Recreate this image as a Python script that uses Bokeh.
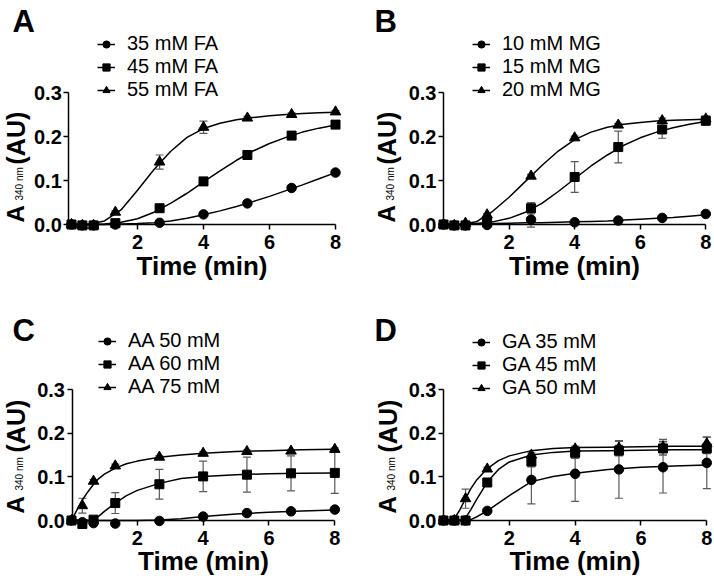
import math
from bokeh.plotting import figure
from bokeh.models import (Range1d, FixedTicker, Legend, LegendItem, Label, Whisker,
                          ColumnDataSource, TeeHead, NumeralTickFormatter)
from bokeh.layouts import gridplot
from bokeh.embed import file_html
from bokeh.resources import INLINE

FONT = "Liberation Sans"

# ---------------- data ----------------
t = [0, 0.33, 0.67, 1.33, 2.67, 4, 5.33, 6.67, 8]
x_ticks = [2, 4, 6, 8]
x_tick_labels = ["2", "4", "6", "8"]
y_ticks = [0.0, 0.1, 0.2, 0.3]
y_tick_labels = ["0.0", "0.1", "0.2", "0.3"]

# Panel A (FA)
FA_labels = ["35 mM FA", "45 mM FA", "55 mM FA"]
FA35 = [0, -0.002, -0.002, 0.000, 0.004, 0.023, 0.048, 0.083, 0.118]
FA45 = [0, -0.002, -0.002, 0.003, 0.037, 0.098, 0.158, 0.202, 0.227]
FA55 = [0, -0.002, -0.002, 0.028, 0.142, 0.221, 0.242, 0.250, 0.256]
FA35_err = [0, 0, 0, 0.002, 0.002, 0.003, 0.003, 0.003, 0.003]
FA45_err = [0, 0, 0, 0.002, 0.003, 0.003, 0.003, 0.003, 0.003]
FA55_err = [0, 0, 0, 0.003, 0.016, 0.014, 0.004, 0.004, 0.003]

# Panel B (MG)
MG_labels = ["10 mM MG", "15 mM MG", "20 mM MG"]
MG10 = [0, -0.002, -0.002, -0.001, 0.011, 0.005, 0.009, 0.015, 0.024]
MG15 = [0, -0.002, -0.002, 0.005, 0.037, 0.108, 0.176, 0.216, 0.236]
MG20 = [0, -0.002, 0.003, 0.022, 0.110, 0.197, 0.226, 0.236, 0.240]
MG10_err = [0, 0, 0, 0.002, 0.017, 0.003, 0.003, 0.003, 0.003]
MG15_err = [0, 0, 0, 0.003, 0.013, 0.035, 0.036, 0.020, 0.010]
MG20_err = [0, 0, 0, 0.003, 0.004, 0.004, 0.004, 0.006, 0.006]

# Panel C (AA)
AA_labels = ["AA 50 mM", "AA 60 mM", "AA 75 mM"]
AA50 = [0, -0.004, -0.006, -0.007, -0.001, 0.009, 0.017, 0.021, 0.025]
AA60 = [0, -0.008, 0.002, 0.040, 0.083, 0.101, 0.105, 0.108, 0.109]
AA75 = [0, 0.034, 0.090, 0.125, 0.145, 0.154, 0.158, 0.159, 0.163]
AA50_err = [0, 0.002, 0.002, 0.002, 0.002, 0.003, 0.003, 0.003, 0.003]
AA60_err = [0, 0.006, 0.003, 0.024, 0.034, 0.035, 0.040, 0.040, 0.047]
AA75_err = [0, 0.017, 0.004, 0.004, 0.003, 0.003, 0.003, 0.003, 0.003]

# Panel D (GA)
GA_labels = ["GA 35 mM", "GA 45 mM", "GA 50 mM"]
GA35 = [0, 0, 0, 0.022, 0.093, 0.107, 0.117, 0.122, 0.132]
GA45 = [0, 0, 0, 0.087, 0.135, 0.155, 0.160, 0.165, 0.165]
GA50 = [0, 0, 0.050, 0.118, 0.150, 0.164, 0.166, 0.168, 0.176]
GA35_err = [0, 0, 0, 0.003, 0.055, 0.063, 0.066, 0.059, 0.059]
GA45_err = [0, 0, 0, 0.006, 0.012, 0.013, 0.012, 0.015, 0.012]
GA50_err = [0, 0, 0.022, 0.004, 0.005, 0.006, 0.015, 0.018, 0.015]

# Fitted curves
fitAB_t = [0, 0.5, 1, 1.5, 2, 2.5, 3, 3.5, 4, 4.5, 5, 5.5, 6, 6.5, 7, 7.5, 8]
FA35_fit = [0, 0, 0, 0.001, 0.002, 0.004, 0.008, 0.014, 0.022, 0.031, 0.041, 0.052, 0.064, 0.077, 0.090, 0.104, 0.118]
FA45_fit = [0, 0, 0.001, 0.005, 0.013, 0.028, 0.048, 0.071, 0.097, 0.122, 0.146, 0.167, 0.184, 0.198, 0.210, 0.219, 0.226]
FA55_fit = [0, 0, 0.008, 0.033, 0.078, 0.125, 0.166, 0.198, 0.218, 0.230, 0.238, 0.243, 0.247, 0.250, 0.252, 0.254, 0.255]
MG10_fit = [0, 0, 0.001, 0.002, 0.003, 0.004, 0.004, 0.005, 0.006, 0.007, 0.008, 0.010, 0.012, 0.014, 0.016, 0.019, 0.022]
MG15_fit = [0, 0, 0.002, 0.006, 0.014, 0.028, 0.048, 0.075, 0.104, 0.133, 0.158, 0.180, 0.197, 0.210, 0.220, 0.228, 0.234]
MG20_fit = [0, 0, 0.006, 0.030, 0.062, 0.098, 0.134, 0.167, 0.193, 0.210, 0.221, 0.228, 0.232, 0.235, 0.237, 0.238, 0.239]

fitCD_t = [0, 0.17, 0.33, 0.5, 0.67, 0.83, 1, 1.33, 1.67, 2, 2.67, 3.33, 4, 5, 6, 7, 8]
AA50_fit = [0, 0, 0, 0, 0, 0, 0, 0, 0, 0, 0.001, 0.004, 0.009, 0.015, 0.019, 0.022, 0.024]
AA60_fit = [0, 0, 0, 0, 0.002, 0.010, 0.021, 0.040, 0.057, 0.069, 0.085, 0.096, 0.101, 0.105, 0.107, 0.108, 0.109]
AA75_fit = [0, 0.025, 0.047, 0.066, 0.083, 0.096, 0.106, 0.120, 0.130, 0.136, 0.145, 0.150, 0.154, 0.158, 0.160, 0.162, 0.163]
GA35_fit = [0, 0, 0, 0, 0, 0.002, 0.008, 0.022, 0.040, 0.057, 0.089, 0.101, 0.108, 0.117, 0.122, 0.125, 0.127]
GA45_fit = [0, 0, 0, 0.001, 0.006, 0.025, 0.047, 0.088, 0.117, 0.134, 0.150, 0.156, 0.159, 0.160, 0.161, 0.162, 0.162]
GA50_fit = [0, 0, 0.004, 0.025, 0.050, 0.073, 0.092, 0.119, 0.137, 0.148, 0.160, 0.165, 0.167, 0.168, 0.169, 0.170, 0.170]

markers = ["circle", "square", "triangle"]
marker_sizes = [9.5, 9, 10.5]

# ---------------- layout parameters (pixels within each figure) ----------------
panels = [
    dict(letter="A", labels=FA_labels, vals=[FA35, FA45, FA55], errs=[FA35_err, FA45_err, FA55_err],
         fit_t=fitAB_t, fits=[FA35_fit, FA45_fit, FA55_fit],
         w=357, h=289, x0=71, x8=335, y0=224, y3=92, yaxis_px=68.3,
         letter_xy=(12, 21), leg=(97, 101), ylab_x=15, ylab=(222, 200, 164), xlab_so=-1),
    dict(letter="B", labels=MG_labels, vals=[MG10, MG15, MG20], errs=[MG10_err, MG15_err, MG20_err],
         fit_t=fitAB_t, fits=[MG10_fit, MG15_fit, MG20_fit],
         w=357, h=289, x0=86, x8=348.3, y0=224, y3=92, yaxis_px=86,
         letter_xy=(17, 21), leg=(115, 101), ylab_x=29, ylab=(222, 200, 164), xlab_so=-1),
    dict(letter="C", labels=AA_labels, vals=[AA50, AA60, AA75], errs=[AA50_err, AA60_err, AA75_err],
         fit_t=fitCD_t, fits=[AA50_fit, AA60_fit, AA75_fit],
         w=357, h=290, x0=71, x8=334.3, y0=231, y3=100, yaxis_px=71.5,
         letter_xy=(12, 41), leg=(98, 109), ylab_x=15, ylab=(224, 201, 163), xlab_so=-2),
    dict(letter="D", labels=GA_labels, vals=[GA35, GA45, GA50], errs=[GA35_err, GA45_err, GA50_err],
         fit_t=fitCD_t, fits=[GA35_fit, GA45_fit, GA50_fit],
         w=357, h=290, x0=86, x8=349.3, y0=231, y3=100, yaxis_px=86,
         letter_xy=(17, 41), leg=(115, 110), ylab_x=30, ylab=(224, 201, 163), xlab_so=-2),
]

ERR_COLOR = "#5a5a5a"


def make_panel(cfg):
    w, h = cfg["w"], cfg["h"]
    kx = (cfg["x8"] - cfg["x0"]) / 8.0
    xs = -cfg["x0"] / kx
    xe = xs + w / kx
    ky = (cfg["y0"] - cfg["y3"]) / 0.3
    ye = cfg["y0"] / ky
    ys = ye - h / ky
    yaxis_at = (cfg["yaxis_px"] - cfg["x0"]) / kx

    p = figure(width=w, height=h, x_range=Range1d(xs, xe), y_range=Range1d(ys, ye),
               output_backend="svg", toolbar_location=None, min_border=0,
               outline_line_color=None, background_fill_color="white",
               border_fill_color="white")
    p.xgrid.visible = False
    p.ygrid.visible = False

    for ax in (p.xaxis[0], p.yaxis[0]):
        ax.axis_line_width = 1.5
        ax.axis_line_color = "black"
        ax.major_tick_line_width = 1.5
        ax.major_tick_line_color = "black"
        ax.major_tick_out = 5
        ax.major_tick_in = 0
        ax.minor_tick_out = 0
        ax.minor_tick_in = 0
        ax.major_label_text_font = FONT
        ax.major_label_text_font_style = "bold"
        ax.major_label_text_font_size = "20px"
        ax.major_label_text_color = "black"

    xa = p.xaxis[0]
    xa.fixed_location = 0
    xa.bounds = (yaxis_at, 8)
    xa.ticker = FixedTicker(ticks=x_ticks)
    xa.major_label_overrides = dict(zip(x_ticks, x_tick_labels))
    xa.major_label_standoff = 5
    xa.axis_label = "Time (min)"
    xa.axis_label_text_font = FONT
    xa.axis_label_text_font_style = "bold"
    xa.axis_label_text_font_size = "26px"
    xa.axis_label_text_color = "black"
    xa.axis_label_standoff = cfg["xlab_so"]

    ya = p.yaxis[0]
    ya.fixed_location = yaxis_at
    ya.bounds = (0, 0.3)
    ya.ticker = FixedTicker(ticks=y_ticks)
    ya.formatter = NumeralTickFormatter(format="0.0")
    ya.major_label_overrides = dict(zip(y_ticks, y_tick_labels))
    ya.major_label_standoff = 2

    items = []
    for i in range(3):
        vals = cfg["vals"][i]
        errs = cfg["errs"][i]
        src = ColumnDataSource(dict(t=t, y=vals,
                                    upper=[v + e for v, e in zip(vals, errs)],
                                    lower=[v - e for v, e in zip(vals, errs)]))
        wk = Whisker(base="t", upper="upper", lower="lower", source=src,
                     line_color=ERR_COLOR, line_width=1.2,
                     upper_head=TeeHead(size=8, line_color=ERR_COLOR, line_width=1.2),
                     lower_head=TeeHead(size=8, line_color=ERR_COLOR, line_width=1.2))
        p.add_layout(wk)
        fsrc = ColumnDataSource(dict(t=cfg["fit_t"], y=cfg["fits"][i]))
        lr = p.line("t", "y", source=fsrc, line_color="black", line_width=1.5)
        sr = p.scatter("t", "y", source=src, marker=markers[i], size=marker_sizes[i],
                       fill_color="black", line_color="black")
        items.append(LegendItem(label=cfg["labels"][i], renderers=[lr, sr]))

    lx, lbottom = cfg["leg"]
    legend = Legend(items=items, location=(lx, h - lbottom), orientation="vertical",
                    padding=0, margin=0, spacing=-4, glyph_width=18, glyph_height=20,
                    label_height=20, label_standoff=12, label_text_font=FONT,
                    label_text_font_size="20px", label_text_color="black",
                    border_line_color=None, background_fill_alpha=0)
    p.add_layout(legend)

    lxp, lyp = cfg["letter_xy"]
    p.add_layout(Label(text=cfg["letter"], x=lxp, y=h - lyp, x_units="screen", y_units="screen",
                       text_font=FONT, text_font_size="31px", text_font_style="bold",
                       text_align="left", text_baseline="middle", text_color="black"))

    bx = cfg["ylab_x"]
    yA, ySub, yAU = cfg["ylab"]
    for txt, yy, size, style, dx in (("A", yA, "24px", "bold", 0),
                                     ("340 nm", ySub, "10px", "normal", 4),
                                     ("(AU)", yAU, "25px", "bold", 0)):
        p.add_layout(Label(text=txt, x=bx + dx, y=h - yy, x_units="screen", y_units="screen",
                           angle=math.pi / 2, text_font=FONT, text_font_size=size,
                           text_font_style=style, text_align="left",
                           text_baseline="middle", text_color="black"))
    return p


figs = [make_panel(c) for c in panels]
grid = gridplot([[figs[0], figs[1]], [figs[2], figs[3]]], toolbar_location=None)

open("out.html", "w").write(file_html(grid, INLINE))
